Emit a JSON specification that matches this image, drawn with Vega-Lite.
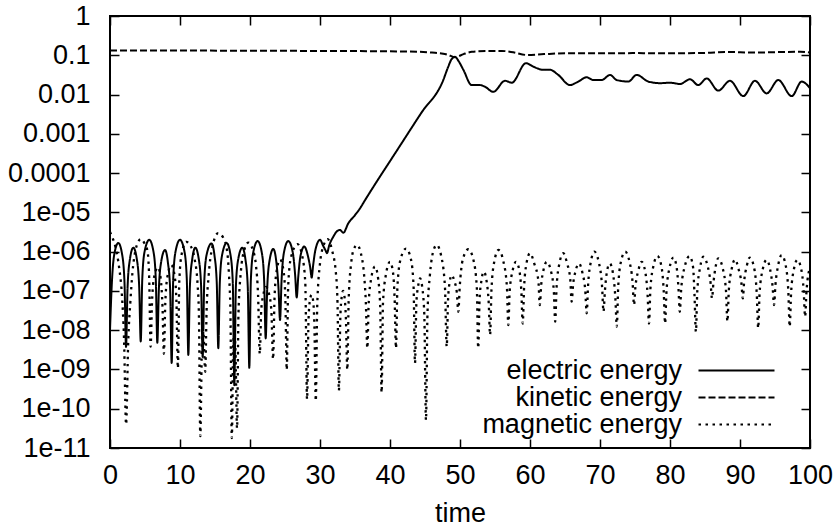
{
"$schema":"https://vega.github.io/schema/vega-lite/v6.json",
"width":700,"height":432,
"autosize":{"type":"none"},
"padding":{"left":110,"top":16,"right":28,"bottom":80},
"background":"white",
"datasets":{
"electric":[
{"t":0,"v":1e-8},{"t":0.27,"v":1.66e-7},{"t":0.6,"v":8.32e-7},{"t":1.19,"v":1.66e-6},{"t":1.74,"v":8.32e-7},{"t":2.07,"v":1.66e-7},{"t":2.29,"v":3.72e-9},{"t":2.51,"v":1.26e-7},{"t":2.84,"v":6.31e-7},{"t":3.33,"v":1.26e-6},{"t":3.84,"v":6.31e-7},{"t":4.17,"v":1.26e-7},{"t":4.39,"v":5.13e-9},{"t":4.61,"v":2.0e-7},{"t":4.94,"v":1e-6},{"t":5.61,"v":2.0e-6},{"t":6.21,"v":1e-6},{"t":6.54,"v":2.0e-7},{"t":6.76,"v":4.79e-9},{"t":6.98,"v":1.10e-7},{"t":7.31,"v":5.50e-7},{"t":7.86,"v":1.10e-6},{"t":8.26,"v":5.50e-7},{"t":8.59,"v":1.10e-7},{"t":8.81,"v":1.45e-9},{"t":9.03,"v":2.0e-7},{"t":9.36,"v":1e-6},{"t":10.0,"v":2.0e-6},{"t":10.64,"v":1e-6},{"t":10.97,"v":2.0e-7},{"t":11.19,"v":2.34e-9},{"t":11.41,"v":1.26e-7},{"t":11.74,"v":6.31e-7},{"t":12.19,"v":1.26e-6},{"t":12.69,"v":6.31e-7},{"t":13.02,"v":1.26e-7},{"t":13.24,"v":2.09e-9},{"t":13.46,"v":1.62e-7},{"t":13.79,"v":8.13e-7},{"t":14.5,"v":1.62e-6},{"t":14.92,"v":8.13e-7},{"t":15.25,"v":1.62e-7},{"t":15.47,"v":3.47e-9},{"t":15.69,"v":1.66e-7},{"t":16.02,"v":8.32e-7},{"t":16.67,"v":1.66e-6},{"t":17.21,"v":8.32e-7},{"t":17.54,"v":1.66e-7},{"t":17.76,"v":3.98e-10},{"t":17.98,"v":1.26e-7},{"t":18.31,"v":6.31e-7},{"t":18.9,"v":1.26e-6},{"t":19.35,"v":6.31e-7},{"t":19.68,"v":1.26e-7},{"t":19.9,"v":1.10e-9},{"t":20.12,"v":1.86e-7},{"t":20.45,"v":9.33e-7},{"t":21.1,"v":1.86e-6},{"t":21.69,"v":9.33e-7},{"t":22.02,"v":1.86e-7},{"t":22.24,"v":6.17e-9},{"t":22.46,"v":1.17e-7},{"t":22.79,"v":5.89e-7},{"t":23.33,"v":1.17e-6},{"t":23.74,"v":5.89e-7},{"t":24.07,"v":1.17e-7},{"t":24.29,"v":1.82e-8},{"t":24.51,"v":1.86e-7},{"t":24.84,"v":9.33e-7},{"t":25.47,"v":1.86e-6},{"t":26.12,"v":9.33e-7},{"t":26.45,"v":2.51e-7},{"t":26.67,"v":6.76e-8},{"t":26.89,"v":2.24e-7},{"t":27.22,"v":7.94e-7},{"t":27.76,"v":1.35e-6},{"t":28.26,"v":7.94e-7},{"t":28.6,"v":3.98e-7},{"t":28.81,"v":2.19e-7},{"t":29.02,"v":4.47e-7},{"t":29.35,"v":1.12e-6},{"t":30.0,"v":2.0e-6},{"t":30.45,"v":1.41e-6},{"t":30.8,"v":1.07e-6},{"t":31.0,"v":9.12e-7},{"t":31.3,"v":1.41e-6},{"t":31.9,"v":2.40e-6},{"t":32.5,"v":3.39e-6},{"t":32.86,"v":3.55e-6},{"t":33.33,"v":3.02e-6},{"t":34.04,"v":5.25e-6},{"t":35.0,"v":8.51e-6},{"t":35.71,"v":1.26e-5},{"t":36.43,"v":2.04e-5},{"t":41.19,"v":4.27e-4},{"t":44.5,"v":3.47e-3},{"t":47.61,"v":0.0234},{"t":48.3,"v":0.0501},{"t":48.8,"v":0.0794},{"t":49.29,"v":0.0912},{"t":49.8,"v":0.0708},{"t":50.48,"v":0.0427},{"t":51.67,"v":0.0174},{"t":52.86,"v":0.0174},{"t":53.57,"v":0.0158},{"t":54.76,"v":0.0117},{"t":56.43,"v":0.0224},{"t":57.39,"v":0.0200},{"t":59.43,"v":0.0631},{"t":60.47,"v":0.0513},{"t":61.9,"v":0.0427},{"t":62.86,"v":0.0427},{"t":64.04,"v":0.0316},{"t":65.71,"v":0.0174},{"t":66.9,"v":0.0214},{"t":68.1,"v":0.0275},{"t":69.04,"v":0.0234},{"t":70.24,"v":0.0234},{"t":71.43,"v":0.0316},{"t":72.39,"v":0.0234},{"t":74.04,"v":0.0214},{"t":75.24,"v":0.0316},{"t":76.9,"v":0.0214},{"t":78.57,"v":0.0195},{"t":80,"v":0.0200},{"t":81.43,"v":0.0186},{"t":82.86,"v":0.0245},{"t":84.04,"v":0.0174},{"t":85.24,"v":0.0257},{"t":86.9,"v":0.0126},{"t":88.57,"v":0.0224},{"t":90.47,"v":0.00912},{"t":92.14,"v":0.0224},{"t":93.81,"v":0.0107},{"t":95.47,"v":0.0234},{"t":97.39,"v":0.00912},{"t":98.81,"v":0.0214},{"t":100,"v":0.0145}
],
"kinetic":[
{"t":0,"v":0.132},{"t":10,"v":0.132},{"t":20,"v":0.130},{"t":30,"v":0.129},{"t":40,"v":0.126},{"t":44,"v":0.123},{"t":46,"v":0.117},{"t":47.6,"v":0.110},{"t":48.3,"v":0.102},{"t":49.3,"v":0.0891},{"t":50.5,"v":0.107},{"t":51.7,"v":0.123},{"t":53.8,"v":0.129},{"t":56,"v":0.129},{"t":57.6,"v":0.119},{"t":59.5,"v":0.102},{"t":62,"v":0.107},{"t":65.2,"v":0.112},{"t":70,"v":0.112},{"t":75,"v":0.1135},{"t":80,"v":0.112},{"t":85,"v":0.115},{"t":88.1,"v":0.1216},{"t":92,"v":0.117},{"t":95,"v":0.120},{"t":98.6,"v":0.123},{"t":100,"v":0.117}
],
"magnetic":[
{"t":0,"v":3.16e-6},{"t":0.3,"v":2.40e-6},{"t":0.8,"v":1.26e-6},{"t":1.3,"v":3.98e-7},{"t":1.7,"v":7.94e-8},{"t":2.0,"v":6.31e-9},{"t":2.3,"v":3.98e-11},{"t":2.6,"v":5.01e-9},{"t":2.9,"v":5.01e-8},{"t":3.2,"v":2.82e-7},{"t":3.6,"v":1e-6},{"t":3.95,"v":1.66e-6},{"t":4.4,"v":2.09e-6},{"t":4.9,"v":1.66e-6},{"t":5.35,"v":1.05e-6},{"t":5.6,"v":2.09e-7},{"t":5.8,"v":3.80e-9},{"t":6.0,"v":5.01e-8},{"t":6.3,"v":2.24e-7},{"t":6.85,"v":3.98e-7},{"t":7.25,"v":2.0e-7},{"t":7.5,"v":3.98e-8},{"t":7.7,"v":2.51e-9},{"t":7.9,"v":5.01e-8},{"t":8.2,"v":2.29e-7},{"t":8.75,"v":4.57e-7},{"t":9.25,"v":2.29e-7},{"t":9.5,"v":4.57e-8},{"t":9.7,"v":1.07e-9},{"t":9.9,"v":1.78e-7},{"t":10.25,"v":8.91e-7},{"t":10.9,"v":1.78e-6},{"t":11.5,"v":1.41e-6},{"t":12.1,"v":6.31e-7},{"t":12.5,"v":1.58e-7},{"t":12.7,"v":2.51e-8},{"t":12.9,"v":2.0e-11},{"t":13.15,"v":5.01e-9},{"t":13.35,"v":7.94e-9},{"t":13.6,"v":8.71e-10},{"t":13.8,"v":3.16e-8},{"t":14.1,"v":2.51e-7},{"t":14.6,"v":1.26e-6},{"t":15.45,"v":2.95e-6},{"t":16.2,"v":2.24e-6},{"t":16.7,"v":1.12e-6},{"t":17.0,"v":2.51e-7},{"t":17.2,"v":3.16e-8},{"t":17.4,"v":1.78e-11},{"t":17.6,"v":3.98e-9},{"t":17.75,"v":7.94e-9},{"t":17.92,"v":3.16e-9},{"t":18.15,"v":3.16e-11},{"t":18.35,"v":2.51e-8},{"t":18.7,"v":3.16e-7},{"t":19.2,"v":1.12e-6},{"t":19.76,"v":1.70e-6},{"t":20.4,"v":1.12e-6},{"t":20.85,"v":4.47e-7},{"t":21.15,"v":7.94e-8},{"t":21.4,"v":2.51e-9},{"t":21.6,"v":3.16e-8},{"t":21.9,"v":7.94e-8},{"t":22.3,"v":1.26e-7},{"t":22.75,"v":7.94e-8},{"t":23.05,"v":3.16e-8},{"t":23.3,"v":1.82e-9},{"t":23.5,"v":6.31e-8},{"t":23.8,"v":3.16e-7},{"t":24.3,"v":6.31e-7},{"t":24.8,"v":3.16e-7},{"t":25.05,"v":6.31e-8},{"t":25.25,"v":9.77e-10},{"t":25.45,"v":1.26e-7},{"t":25.85,"v":7.08e-7},{"t":26.8,"v":1.55e-6},{"t":27.45,"v":7.94e-7},{"t":27.9,"v":1.58e-7},{"t":28.15,"v":1.74e-10},{"t":28.35,"v":1.58e-8},{"t":28.55,"v":5.62e-8},{"t":28.8,"v":7.94e-8},{"t":29.05,"v":5.01e-8},{"t":29.2,"v":1.26e-8},{"t":29.4,"v":1.58e-10},{"t":29.6,"v":3.98e-8},{"t":30.0,"v":5.01e-7},{"t":30.5,"v":1.41e-6},{"t":31.1,"v":2.09e-6},{"t":31.7,"v":1.12e-6},{"t":32.3,"v":2.51e-7},{"t":32.5,"v":5.01e-8},{"t":32.7,"v":2.88e-10},{"t":32.9,"v":2.0e-8},{"t":33.1,"v":7.08e-8},{"t":33.3,"v":1e-7},{"t":33.5,"v":7.08e-8},{"t":33.7,"v":2.0e-8},{"t":33.9,"v":9.77e-10},{"t":34.1,"v":6.31e-8},{"t":34.45,"v":5.01e-7},{"t":34.8,"v":1.12e-6},{"t":35.3,"v":1.48e-6},{"t":35.85,"v":8.91e-7},{"t":36.3,"v":2.51e-7},{"t":36.55,"v":5.01e-8},{"t":36.76,"v":3.47e-9},{"t":36.96,"v":5.01e-8},{"t":37.3,"v":2.0e-7},{"t":37.86,"v":4.17e-7},{"t":38.3,"v":2.09e-7},{"t":38.6,"v":3.98e-8},{"t":38.8,"v":2.57e-10},{"t":39.0,"v":5.01e-8},{"t":39.4,"v":2.51e-7},{"t":40.0,"v":5.50e-7},{"t":40.45,"v":2.75e-7},{"t":40.66,"v":6.31e-8},{"t":40.86,"v":3.47e-9},{"t":41.06,"v":1.26e-7},{"t":41.5,"v":6.31e-7},{"t":42.3,"v":1.20e-6},{"t":43.0,"v":6.31e-7},{"t":43.37,"v":1.26e-7},{"t":43.57,"v":1.45e-9},{"t":43.77,"v":5.01e-8},{"t":44.0,"v":1.26e-7},{"t":44.3,"v":2.09e-7},{"t":44.6,"v":1.26e-7},{"t":44.9,"v":2.51e-8},{"t":45.14,"v":5.13e-11},{"t":45.35,"v":2.51e-8},{"t":45.7,"v":2.51e-7},{"t":46.1,"v":8.91e-7},{"t":46.67,"v":1.48e-6},{"t":47.3,"v":7.94e-7},{"t":47.85,"v":1.26e-7},{"t":48.1,"v":3.80e-9},{"t":48.3,"v":6.31e-8},{"t":48.55,"v":1.78e-7},{"t":48.8,"v":2.51e-7},{"t":49.2,"v":1.78e-7},{"t":49.55,"v":8.91e-8},{"t":49.76,"v":2.95e-8},{"t":49.96,"v":1.26e-7},{"t":50.4,"v":6.31e-7},{"t":51.2,"v":1.15e-6},{"t":51.9,"v":6.31e-7},{"t":52.4,"v":1.26e-7},{"t":52.6,"v":3.47e-9},{"t":52.8,"v":6.31e-8},{"t":53.05,"v":1.78e-7},{"t":53.4,"v":3.09e-7},{"t":53.8,"v":1.78e-7},{"t":54.1,"v":5.01e-8},{"t":54.3,"v":7.59e-9},{"t":54.5,"v":1.12e-7},{"t":54.9,"v":5.62e-7},{"t":55.5,"v":1.10e-6},{"t":56.2,"v":5.62e-7},{"t":56.7,"v":1.26e-7},{"t":56.9,"v":1.35e-8},{"t":57.1,"v":1e-7},{"t":57.5,"v":3.16e-7},{"t":58.0,"v":5.50e-7},{"t":58.5,"v":3.16e-7},{"t":58.76,"v":1e-7},{"t":58.96,"v":1.48e-8},{"t":59.16,"v":1.26e-7},{"t":59.5,"v":5.01e-7},{"t":60.0,"v":9.12e-7},{"t":60.6,"v":5.01e-7},{"t":61.2,"v":1.78e-7},{"t":61.4,"v":4.37e-8},{"t":61.6,"v":1.41e-7},{"t":61.95,"v":3.55e-7},{"t":62.4,"v":5.50e-7},{"t":63.0,"v":3.16e-7},{"t":63.4,"v":1e-7},{"t":63.6,"v":1.66e-8},{"t":63.8,"v":1.26e-7},{"t":64.2,"v":5.01e-7},{"t":64.76,"v":9.12e-7},{"t":65.3,"v":5.01e-7},{"t":65.75,"v":2.0e-7},{"t":65.95,"v":5.37e-8},{"t":66.15,"v":1.41e-7},{"t":66.5,"v":3.16e-7},{"t":67.0,"v":5.01e-7},{"t":67.5,"v":2.82e-7},{"t":67.9,"v":1e-7},{"t":68.1,"v":2.69e-8},{"t":68.3,"v":1.41e-7},{"t":68.7,"v":5.62e-7},{"t":69.2,"v":1e-6},{"t":69.8,"v":5.62e-7},{"t":70.3,"v":1.26e-7},{"t":70.5,"v":2.95e-8},{"t":70.7,"v":1e-7},{"t":71.0,"v":3.16e-7},{"t":71.4,"v":5.01e-7},{"t":71.85,"v":2.82e-7},{"t":72.2,"v":6.31e-8},{"t":72.4,"v":1.23e-8},{"t":72.6,"v":1.26e-7},{"t":73.0,"v":5.62e-7},{"t":73.6,"v":1e-6},{"t":74.2,"v":5.62e-7},{"t":74.66,"v":1.58e-7},{"t":74.86,"v":4.37e-8},{"t":75.06,"v":1.26e-7},{"t":75.45,"v":3.16e-7},{"t":75.95,"v":5.50e-7},{"t":76.45,"v":3.16e-7},{"t":76.8,"v":7.94e-8},{"t":77.0,"v":1.48e-8},{"t":77.2,"v":1.12e-7},{"t":77.65,"v":4.47e-7},{"t":78.2,"v":7.76e-7},{"t":78.75,"v":4.47e-7},{"t":79.1,"v":1e-7},{"t":79.3,"v":1.48e-8},{"t":79.5,"v":1e-7},{"t":79.95,"v":3.98e-7},{"t":80.5,"v":7.08e-7},{"t":80.95,"v":3.98e-7},{"t":81.2,"v":1.26e-7},{"t":81.4,"v":2.95e-8},{"t":81.6,"v":1.12e-7},{"t":82.15,"v":4.47e-7},{"t":82.8,"v":7.76e-7},{"t":83.3,"v":3.98e-7},{"t":83.5,"v":7.94e-8},{"t":83.7,"v":9.12e-9},{"t":83.9,"v":1e-7},{"t":84.3,"v":3.98e-7},{"t":84.76,"v":7.41e-7},{"t":85.35,"v":4.47e-7},{"t":85.8,"v":1.58e-7},{"t":86.0,"v":6.46e-8},{"t":86.2,"v":1.58e-7},{"t":86.5,"v":3.98e-7},{"t":86.9,"v":6.76e-7},{"t":87.5,"v":3.98e-7},{"t":88.0,"v":1e-7},{"t":88.2,"v":1.66e-8},{"t":88.4,"v":1e-7},{"t":88.8,"v":3.55e-7},{"t":89.3,"v":6.31e-7},{"t":89.8,"v":3.55e-7},{"t":90.2,"v":1.58e-7},{"t":90.4,"v":6.46e-8},{"t":90.6,"v":1.78e-7},{"t":90.95,"v":4.17e-7},{"t":91.4,"v":7.08e-7},{"t":92.0,"v":3.98e-7},{"t":92.4,"v":7.94e-8},{"t":92.6,"v":1.12e-8},{"t":92.8,"v":8.91e-8},{"t":93.25,"v":3.55e-7},{"t":93.8,"v":6.17e-7},{"t":94.3,"v":3.55e-7},{"t":94.66,"v":1.26e-7},{"t":94.86,"v":4.37e-8},{"t":95.06,"v":1.41e-7},{"t":95.45,"v":4.47e-7},{"t":95.95,"v":8.13e-7},{"t":96.5,"v":4.68e-7},{"t":96.9,"v":1e-7},{"t":97.1,"v":1.23e-8},{"t":97.3,"v":8.91e-8},{"t":97.7,"v":3.55e-7},{"t":98.2,"v":6.17e-7},{"t":98.75,"v":3.55e-7},{"t":99.1,"v":1e-7},{"t":99.3,"v":2.19e-8},{"t":99.5,"v":1e-7},{"t":100,"v":3.98e-7}
]
},
"encoding":{
"x":{"field":"t","type":"quantitative","scale":{"domain":[0,100],"nice":false,"zero":false},"axis":null},
"y":{"field":"v","type":"quantitative","scale":{"type":"log","domain":[1e-11,1],"nice":false},"axis":null}
},
"layer":[
{"data":{"name":"kinetic"},"mark":{"type":"line","interpolate":"monotone","color":"black","strokeWidth":2},
 "encoding":{
  "x":{"field":"t","type":"quantitative","axis":{"orient":"bottom","values":[0,10,20,30,40,50,60,70,80,90,100],"format":"d","title":"time","tickSize":-9,"labelPadding":23,"titlePadding":12}},
  "y":{"field":"v","type":"quantitative","axis":{"orient":"left","values":[1e-11,1e-10,1e-9,1e-8,1e-7,1e-6,1e-5,1e-4,1e-3,1e-2,1e-1,1],"labelExpr":"datum.value >= 0.0001 ? format(datum.value, '~g') : '1e-' + format(-round(log(datum.value)/LN10), '02d')","title":null,"tickSize":-9,"labelPadding":29}},
  "strokeDash":{"datum":"kinetic energy","type":"nominal","scale":{"domain":["electric energy","kinetic energy","magnetic energy"],"range":[[1,0],[7,3],[2.5,4.5]]},
   "legend":{"orient":"none","legendX":613,"legendY":341,"title":null,"symbolType":"M-3.8,0H3.8","symbolSize":400,"symbolStrokeWidth":2,"symbolStrokeColor":"black","symbolFillColor":"transparent","labelFont":"Liberation Sans","labelFontSize":27,"labelColor":"black","labelAlign":"right","labelOffset":-68,"labelLimit":400,"rowPadding":-2,"padding":0}}
 }},
{"data":{"name":"electric"},"mark":{"type":"line","interpolate":"monotone","color":"black","strokeWidth":2},
 "encoding":{"strokeDash":{"datum":"electric energy","type":"nominal"}}},
{"data":{"name":"magnetic"},"mark":{"type":"line","interpolate":"monotone","color":"black","strokeWidth":2.3},
 "encoding":{"strokeDash":{"datum":"magnetic energy","type":"nominal"}}},
{"data":{"name":"kinetic"},"mark":{"type":"line","strokeOpacity":0},
 "encoding":{
  "x":{"field":"t","type":"quantitative","axis":{"orient":"top","values":[0,10,20,30,40,50,60,70,80,90,100],"labels":false,"title":null,"tickSize":-9}},
  "y":{"field":"v","type":"quantitative","axis":{"orient":"right","values":[1e-11,1e-10,1e-9,1e-8,1e-7,1e-6,1e-5,1e-4,1e-3,1e-2,1e-1,1],"labels":false,"title":null,"tickSize":-9}}
 }}
],
"resolve":{"axis":{"x":"independent","y":"independent"}},
"config":{
"view":{"stroke":"black","strokeWidth":2},
"axis":{"labelFont":"Liberation Sans","labelFontSize":27,"labelColor":"black","tickColor":"black","tickWidth":1.5,"domain":false,"grid":false,"labelFlush":false,"labelOverlap":false,"labelBound":false,"titleFont":"Liberation Sans","titleFontSize":27,"titleColor":"black","titleFontWeight":"normal"}
}
}
